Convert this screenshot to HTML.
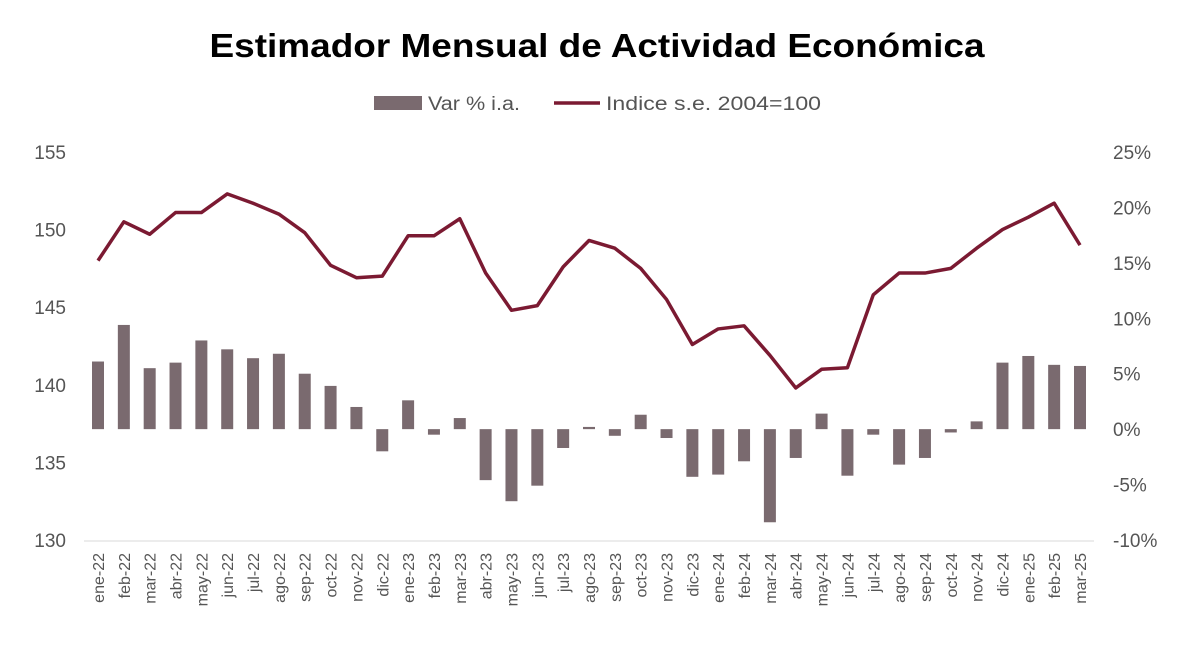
<!DOCTYPE html>
<html><head><meta charset="utf-8"><style>
body{margin:0;background:#fff;font-family:"Liberation Sans",sans-serif}
</style></head><body>
<svg id="c" width="1186" height="663" viewBox="0 0 1186 663">
<rect width="1186" height="663" fill="#fff"/>
<text x="597" y="57" text-anchor="middle" font-size="33" font-weight="bold" fill="#000" textLength="775" lengthAdjust="spacingAndGlyphs">Estimador Mensual de Actividad Económica</text>
<g>
<rect x="374" y="96" width="48" height="14" fill="#7a6a6f"/>
<text x="428" y="110" font-size="19" fill="#555" textLength="92" lengthAdjust="spacingAndGlyphs">Var % i.a.</text>
<line x1="554" y1="103" x2="600" y2="103" stroke="#7b1a32" stroke-width="3.5"/>
<text x="606" y="110" font-size="19" fill="#555" textLength="215" lengthAdjust="spacingAndGlyphs">Indice s.e. 2004=100</text>
</g>
<g id="plot"></g>
</svg>
<script>
const categories=["ene-22","feb-22","mar-22","abr-22","may-22","jun-22","jul-22","ago-22","sep-22","oct-22","nov-22","dic-22","ene-23","feb-23","mar-23","abr-23","may-23","jun-23","jul-23","ago-23","sep-23","oct-23","nov-23","dic-23","ene-24","feb-24","mar-24","abr-24","may-24","jun-24","jul-24","ago-24","sep-24","oct-24","nov-24","dic-24","ene-25","feb-25","mar-25"];
const varPct=[6.1,9.4,5.5,6.0,8.0,7.2,6.4,6.8,5.0,3.9,2.0,-2.0,2.6,-0.5,1.0,-4.6,-6.5,-5.1,-1.7,0.2,-0.6,1.3,-0.8,-4.3,-4.1,-2.9,-8.4,-2.6,1.4,-4.2,-0.5,-3.2,-2.6,-0.3,0.7,6.0,6.6,5.8,5.7];
const indice=[148.0,150.5,149.7,151.1,151.1,152.3,151.7,151.0,149.8,147.7,146.9,147.0,149.6,149.6,150.7,147.2,144.8,145.1,147.6,149.3,148.8,147.5,145.5,142.6,143.6,143.8,141.9,139.8,141.0,141.1,145.8,147.2,147.2,147.5,148.8,150.0,150.8,151.7,149.0];
const leftTicks=[130,135,140,145,150,155];
const rightTicks=[-10,-5,0,5,10,15,20,25];
const NS="http://www.w3.org/2000/svg";
const g=document.getElementById("plot");
const x0=98,x1=1080;
const xs=i=>x0+(x1-x0)*i/(categories.length-1);
const yL=v=>152+(155-v)*(388/25);
const yR=v=>152+(25-v)*(388/35);
function mk(t,a){const e=document.createElementNS(NS,t);for(const k in a)e.setAttribute(k,a[k]);g.appendChild(e);return e;}
leftTicks.forEach(v=>{const t=mk("text",{x:66,y:yL(v)+7,"text-anchor":"end","font-size":19,fill:"#555"});t.textContent=v;

});
rightTicks.forEach(v=>{const t=mk("text",{x:1113,y:yR(v)+7,"font-size":19,fill:"#555"});t.textContent=v+"%";

});
const ax=mk("line",{x1:84,x2:1094,y1:541,y2:541,stroke:"#d9d9d9","stroke-width":1});


varPct.forEach((v,i)=>{const y0=yR(0),y=yR(v);const r=mk("rect",{x:xs(i)-6,y:Math.min(y0,y),width:12,height:Math.max(Math.abs(y-y0),1.5),fill:"#7a6a6f"});

});
const p=mk("polyline",{points:indice.map((v,i)=>xs(i)+","+yL(v)).join(" "),fill:"none",stroke:"#7b1a32","stroke-width":3.5,"stroke-linejoin":"round"});


categories.forEach((c,i)=>{const t=mk("text",{transform:`translate(${xs(i)+6},553) rotate(-90)`,"text-anchor":"end","font-size":16,fill:"#555"});t.textContent=c;

});
</script>
</body></html>
